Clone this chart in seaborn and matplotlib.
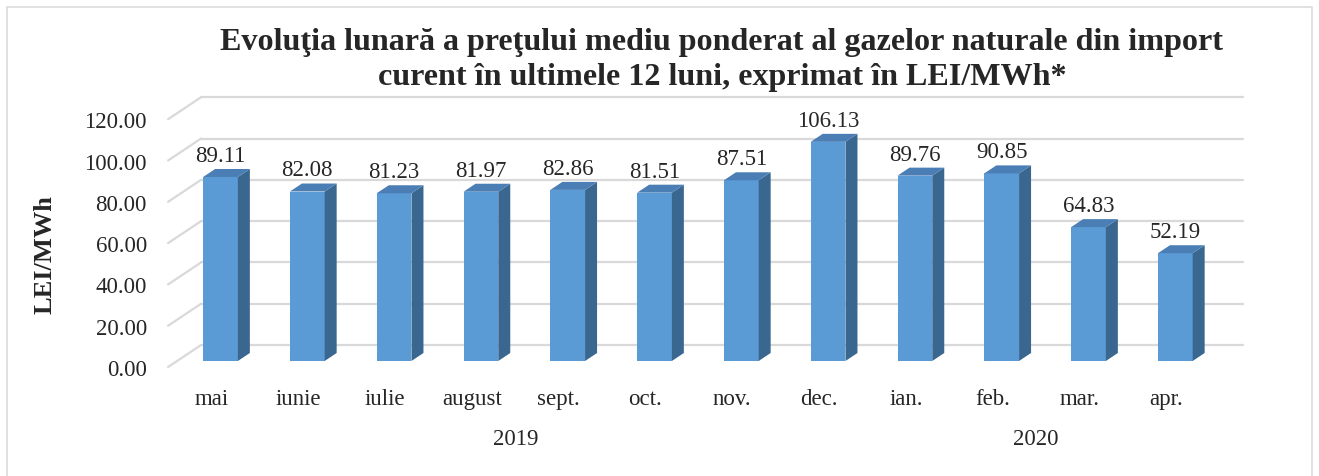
import matplotlib
matplotlib.use("Agg")
import matplotlib.pyplot as plt
import matplotlib.transforms as mtransforms
from matplotlib.lines import Line2D
from matplotlib.patches import Polygon, Rectangle
import seaborn as sns
import pandas as pd

# ---------------------------------------------------------------------------
# Data
# ---------------------------------------------------------------------------
months = ["mai", "iunie", "iulie", "august", "sept.", "oct.", "nov.",
          "dec.", "ian.", "feb.", "mar.", "apr."]
prices = [89.11, 82.08, 81.23, 81.97, 82.86, 81.51, 87.51,
          106.13, 89.76, 90.85, 64.83, 52.19]
years = ["2019", "2020"]
year_first = [0, 8]
year_last = [7, 11]
y_ticks = [0, 20, 40, 60, 80, 100, 120]

title = ("Evoluţia lunară a preţului mediu ponderat al gazelor naturale din import\n"
         "curent în ultimele 12 luni, exprimat în LEI/MWh*")
y_label = "LEI/MWh"

# ---------------------------------------------------------------------------
# Style
# ---------------------------------------------------------------------------
FRONT = "#5B9BD5"
SIDE = "#3A6790"
TOP = "#4A7EB5"
GRID = "#D9D9D9"

W, H, DPI = 1319, 477, 100
DEPTH = (12, 8)        # bar depth in px (x, y)
WALL = (24, 16)        # back wall offset from bar plane, px
FRONT_OFF = (-9, -6)   # front edge offset from bar plane, px

sns.set_style("white")
plt.rcParams["font.family"] = ["Liberation Serif", "DejaVu Serif"]

fig = plt.figure(figsize=(W / DPI, H / DPI), dpi=DPI)
ax = fig.add_axes([177.1 / W, 115 / H, 1041.6 / W, 247.8 / H])
ax.patch.set_visible(False)

df = pd.DataFrame({"month": months, "price": prices})
sns.barplot(data=df, x="month", y="price", color=FRONT, saturation=1,
            width=0.40, linewidth=0, ax=ax, zorder=3)

ax.set_xlim(-0.5, len(months) - 0.5)
ax.set_ylim(0, 120)
ax.set_xlabel(None)
ax.set_ylabel(None)
sns.despine(ax=ax, left=True, bottom=True)

ax.set_yticks(y_ticks)
ax.set_yticklabels([f"{v:.2f}" for v in y_ticks])
ax.tick_params(axis="y", length=0, pad=21.7, labelsize=16.5)
ax.tick_params(axis="x", length=0, pad=15, labelsize=16.5)

# shift tick labels onto the front edge of the 3D box
y_shift = mtransforms.ScaledTranslation(0, FRONT_OFF[1] / DPI, fig.dpi_scale_trans)
for lab in ax.get_yticklabels():
    lab.set_transform(lab.get_transform() + y_shift)
xy_shift = mtransforms.ScaledTranslation(FRONT_OFF[0] / DPI, FRONT_OFF[1] / DPI,
                                         fig.dpi_scale_trans)
for lab in ax.get_xticklabels():
    lab.set_transform(lab.get_transform() + xy_shift)

to_fig = fig.transFigure.inverted()


def px(x, y):
    return to_fig.transform((x, y))


# back wall + side wall gridlines
x0_ax = ax.transAxes.transform((0, 0))[0]
x1_ax = ax.transAxes.transform((1, 0))[0]
for v in y_ticks:
    yv = ax.transData.transform((0, v))[1]
    back_l = px(x0_ax + WALL[0], yv + WALL[1])
    back_r = px(x1_ax + WALL[0], yv + WALL[1])
    front_l = px(x0_ax + FRONT_OFF[0], yv + FRONT_OFF[1])
    ax.add_line(Line2D([back_l[0], back_r[0]], [back_l[1], back_r[1]],
                       color=GRID, lw=1.6, transform=fig.transFigure,
                       clip_on=False, zorder=1))
    ax.add_line(Line2D([front_l[0], back_l[0]], [front_l[1], back_l[1]],
                       color=GRID, lw=1.6, transform=fig.transFigure,
                       clip_on=False, zorder=1))

# 3D faces of each bar
for bar in ax.patches[:len(prices)]:
    bx, by = bar.get_x(), bar.get_y()
    (l, b) = ax.transData.transform((bx, by))
    (r, t) = ax.transData.transform((bx + bar.get_width(), by + bar.get_height()))
    dx, dy = DEPTH
    side = [px(r, b), px(r + dx, b + dy), px(r + dx, t + dy), px(r, t)]
    top = [px(l, t), px(l + dx, t + dy), px(r + dx, t + dy), px(r, t)]
    ax.add_patch(Polygon(side, closed=True, facecolor=SIDE, edgecolor="none",
                         transform=fig.transFigure, clip_on=False, zorder=3))
    ax.add_patch(Polygon(top, closed=True, facecolor=TOP, edgecolor="none",
                         transform=fig.transFigure, clip_on=False, zorder=3))

ax.bar_label(ax.containers[0], labels=[f"{v:.2f}" for v in prices],
             padding=8, fontsize=16.5, zorder=4)

# year group labels
year_tr = mtransforms.blended_transform_factory(ax.transData, fig.transFigure) + \
    mtransforms.ScaledTranslation(FRONT_OFF[0] / DPI, 0, fig.dpi_scale_trans)
for name, a, b in zip(years, year_first, year_last):
    ax.text((a + b) / 2, 1 - 440 / H, name, transform=year_tr, ha="center",
            va="center", fontsize=16.5, clip_on=False)

fig.text(45 / W, 1 - 255 / H, y_label, rotation=90, ha="center", va="center",
         fontsize=19, fontweight="bold")
fig.text(722 / W, 1 - 28 / H, title, ha="center", va="top", fontsize=23.1,
         fontweight="bold", linespacing=1.27)

fig.add_artist(Rectangle((7 / W, -0.1), (1312 - 7) / W, (477 - 8) / H + 0.1,
                         transform=fig.transFigure, fill=False,
                         edgecolor=GRID, lw=1.1))

fig.savefig("out.png", dpi=DPI)
